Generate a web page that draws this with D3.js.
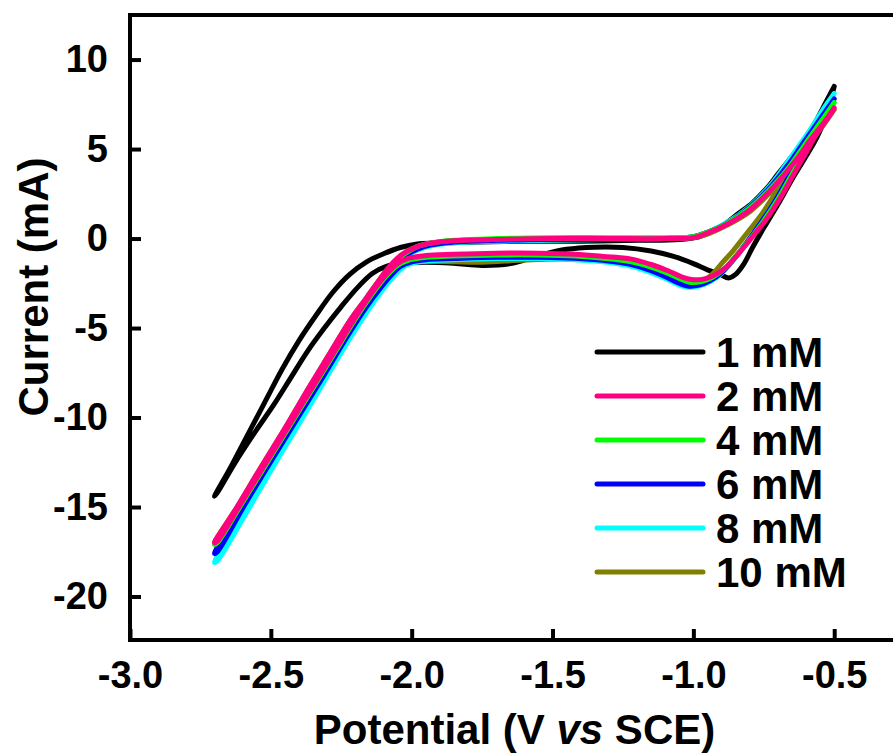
<!DOCTYPE html>
<html>
<head>
<meta charset="utf-8">
<script src="https://cdn.jsdelivr.net/npm/d3@7.9.0/dist/d3.min.js"></script>
<style>
  body { margin: 0; background: #fff; }
  svg { display: block; }
  text { font-family: "Liberation Sans", Arial, sans-serif; font-weight: bold; fill: #000; }
</style>
</head>
<body>
<svg id="chart"></svg>
<script>
// CV data: [potential (V vs SCE), current (mA)]
// each loop: upper branch from -0.5 V down to -2.7 V, then lower branch back
const c1 = [
  [-0.50, 8.5], [-0.53, 7.6], [-0.56, 6.7], [-0.59, 5.9], [-0.62, 5.2], [-0.66, 4.4], [-0.70, 3.6],
  [-0.74, 2.8], [-0.79, 2.0], [-0.84, 1.4], [-0.89, 0.8], [-0.94, 0.35], [-0.98, 0.1], [-1.05, -0.05],
  [-1.20, -0.1], [-1.40, -0.15], [-1.60, -0.15], [-1.80, -0.2], [-1.92, -0.25], [-1.98, -0.3],
  [-2.04, -0.5], [-2.10, -0.85], [-2.16, -1.3], [-2.22, -2.0], [-2.28, -3.0], [-2.34, -4.3],
  [-2.40, -5.7], [-2.46, -7.3], [-2.52, -9.1], [-2.58, -10.9], [-2.64, -12.7], [-2.70, -14.4],
  [-2.69, -14.2], [-2.63, -12.6], [-2.56, -10.9], [-2.49, -9.3], [-2.43, -7.8], [-2.37, -6.3],
  [-2.31, -5.0], [-2.25, -3.8], [-2.19, -2.7], [-2.14, -1.95], [-2.09, -1.55], [-2.03, -1.38],
  [-1.95, -1.32], [-1.85, -1.38], [-1.75, -1.5], [-1.65, -1.4], [-1.55, -0.95], [-1.45, -0.6],
  [-1.35, -0.48], [-1.25, -0.5], [-1.15, -0.7], [-1.07, -1.0], [-1.00, -1.4], [-0.95, -1.75],
  [-0.905, -2.0], [-0.875, -2.2], [-0.85, -2.0], [-0.82, -1.4], [-0.79, -0.5], [-0.75, 0.6],
  [-0.70, 1.9], [-0.65, 3.3], [-0.60, 4.6], [-0.56, 5.7], [-0.53, 6.8], [-0.50, 8.5]
];
const c2 = [
  [-0.50, 7.3], [-0.54, 6.4], [-0.58, 5.6], [-0.62, 4.7], [-0.66, 3.9], [-0.72, 2.8], [-0.80, 1.6],
  [-0.88, 0.8], [-0.95, 0.3], [-1.00, 0.05], [-1.10, 0.0], [-1.30, 0.0], [-1.50, 0.0], [-1.70, -0.05],
  [-1.85, -0.12], [-1.93, -0.25], [-1.98, -0.45], [-2.02, -0.75], [-2.05, -1.1], [-2.08, -1.6],
  [-2.11, -2.2], [-2.16, -3.3], [-2.22, -4.6], [-2.29, -6.4], [-2.36, -8.2], [-2.45, -10.6],
  [-2.54, -12.9], [-2.62, -15.0], [-2.70, -17.0],
  [-2.69, -16.9], [-2.61, -14.9], [-2.52, -12.6], [-2.43, -10.3], [-2.34, -8.0], [-2.27, -6.2],
  [-2.20, -4.4], [-2.14, -3.0], [-2.09, -2.0], [-2.05, -1.4], [-2.01, -1.1], [-1.95, -0.95],
  [-1.85, -0.88], [-1.70, -0.82], [-1.55, -0.82], [-1.42, -0.88], [-1.32, -1.0], [-1.22, -1.15],
  [-1.15, -1.45], [-1.09, -1.8], [-1.04, -2.15], [-1.00, -2.3], [-0.96, -2.25], [-0.92, -2.0],
  [-0.88, -1.55], [-0.84, -0.85], [-0.79, 0.1], [-0.74, 1.1], [-0.69, 2.3], [-0.64, 3.7],
  [-0.60, 4.8], [-0.56, 5.9], [-0.52, 6.8], [-0.50, 7.3]
];
const c4 = [
  [-0.50, 7.6], [-0.54, 6.7], [-0.58, 5.8], [-0.62, 4.9], [-0.66, 4.0], [-0.72, 2.9], [-0.80, 1.7],
  [-0.88, 0.85], [-0.95, 0.35], [-1.00, 0.1], [-1.10, 0.05], [-1.30, 0.05], [-1.50, 0.05], [-1.70, 0.0],
  [-1.85, -0.1], [-1.93, -0.25], [-1.98, -0.45], [-2.02, -0.8], [-2.05, -1.15], [-2.08, -1.65],
  [-2.11, -2.25], [-2.16, -3.35], [-2.22, -4.7], [-2.29, -6.5], [-2.36, -8.3], [-2.45, -10.7],
  [-2.54, -13.0], [-2.62, -15.1], [-2.70, -17.1],
  [-2.69, -17.0], [-2.61, -15.0], [-2.52, -12.7], [-2.43, -10.4], [-2.34, -8.1], [-2.27, -6.3],
  [-2.20, -4.5], [-2.14, -3.1], [-2.09, -2.1], [-2.05, -1.5], [-2.01, -1.2], [-1.95, -1.05],
  [-1.85, -0.98], [-1.70, -0.92], [-1.55, -0.92], [-1.42, -0.98], [-1.32, -1.1], [-1.22, -1.3],
  [-1.15, -1.6], [-1.09, -1.95], [-1.04, -2.3], [-1.01, -2.45], [-0.97, -2.4], [-0.93, -2.15],
  [-0.89, -1.7], [-0.85, -1.0], [-0.80, -0.05], [-0.75, 1.0], [-0.70, 2.2], [-0.65, 3.6],
  [-0.61, 4.7], [-0.57, 5.8], [-0.53, 6.8], [-0.50, 7.6]
];
const c6 = [
  [-0.50, 7.8], [-0.54, 6.9], [-0.58, 6.0], [-0.62, 5.1], [-0.66, 4.2], [-0.72, 3.0], [-0.80, 1.75],
  [-0.88, 0.85], [-0.95, 0.35], [-1.00, 0.1], [-1.10, 0.0], [-1.30, -0.05], [-1.50, -0.05], [-1.70, -0.1],
  [-1.85, -0.2], [-1.93, -0.35], [-1.98, -0.6], [-2.02, -0.95], [-2.05, -1.4], [-2.08, -2.0],
  [-2.12, -2.8], [-2.17, -3.9], [-2.24, -5.6], [-2.32, -7.7], [-2.41, -10.0], [-2.50, -12.3],
  [-2.60, -14.9], [-2.70, -17.6],
  [-2.69, -17.5], [-2.59, -14.8], [-2.49, -12.2], [-2.40, -9.9], [-2.31, -7.6], [-2.23, -5.5],
  [-2.16, -3.8], [-2.11, -2.75], [-2.07, -2.0], [-2.04, -1.55], [-2.00, -1.3], [-1.95, -1.18],
  [-1.85, -1.12], [-1.70, -1.05], [-1.55, -1.05], [-1.42, -1.1], [-1.32, -1.22], [-1.22, -1.45],
  [-1.15, -1.8], [-1.09, -2.2], [-1.05, -2.5], [-1.02, -2.65], [-0.98, -2.6], [-0.94, -2.35],
  [-0.90, -1.9], [-0.86, -1.2], [-0.81, -0.2], [-0.76, 0.9], [-0.71, 2.1], [-0.66, 3.5],
  [-0.62, 4.6], [-0.58, 5.7], [-0.54, 6.8], [-0.50, 7.8]
];
const c8 = [
  [-0.50, 8.1], [-0.54, 7.2], [-0.58, 6.2], [-0.62, 5.3], [-0.66, 4.4], [-0.72, 3.1], [-0.80, 1.8],
  [-0.88, 0.9], [-0.95, 0.35], [-1.00, 0.1], [-1.10, 0.0], [-1.30, -0.05], [-1.50, -0.1], [-1.70, -0.15],
  [-1.85, -0.25], [-1.93, -0.4], [-1.98, -0.65], [-2.02, -1.0], [-2.05, -1.5], [-2.08, -2.1],
  [-2.11, -2.8], [-2.16, -3.9], [-2.23, -5.7], [-2.31, -7.8], [-2.40, -10.2], [-2.50, -12.8],
  [-2.60, -15.5], [-2.70, -18.1],
  [-2.69, -18.0], [-2.59, -15.4], [-2.49, -12.7], [-2.39, -10.1], [-2.30, -7.7], [-2.22, -5.6],
  [-2.15, -3.9], [-2.10, -2.8], [-2.06, -2.05], [-2.03, -1.6], [-1.99, -1.35], [-1.95, -1.25],
  [-1.85, -1.18], [-1.70, -1.12], [-1.55, -1.12], [-1.42, -1.18], [-1.32, -1.3], [-1.22, -1.55],
  [-1.15, -1.9], [-1.09, -2.3], [-1.05, -2.6], [-1.02, -2.72], [-0.98, -2.65], [-0.94, -2.4],
  [-0.90, -1.95], [-0.86, -1.25], [-0.81, -0.25], [-0.76, 0.9], [-0.71, 2.1], [-0.66, 3.5],
  [-0.62, 4.7], [-0.58, 5.8], [-0.54, 7.0], [-0.50, 8.1]
];
const c10 = [
  [-0.50, 7.2], [-0.54, 6.3], [-0.58, 5.5], [-0.62, 4.6], [-0.66, 3.8], [-0.72, 2.7], [-0.80, 1.5],
  [-0.88, 0.75], [-0.95, 0.25], [-1.00, 0.05], [-1.10, 0.0], [-1.30, 0.0], [-1.50, 0.0], [-1.70, -0.05],
  [-1.85, -0.12], [-1.93, -0.25], [-1.98, -0.45], [-2.02, -0.75], [-2.05, -1.1], [-2.08, -1.6],
  [-2.11, -2.2], [-2.16, -3.3], [-2.22, -4.6], [-2.29, -6.4], [-2.36, -8.2], [-2.45, -10.6],
  [-2.54, -12.9], [-2.62, -15.0], [-2.70, -17.0],
  [-2.69, -16.9], [-2.61, -14.9], [-2.52, -12.6], [-2.43, -10.3], [-2.34, -8.0], [-2.27, -6.2],
  [-2.20, -4.4], [-2.14, -3.0], [-2.09, -2.1], [-2.05, -1.6], [-2.01, -1.35], [-1.95, -1.28],
  [-1.85, -1.3], [-1.75, -1.32], [-1.60, -1.2], [-1.45, -1.15], [-1.32, -1.25], [-1.22, -1.45],
  [-1.15, -1.75], [-1.09, -2.05], [-1.04, -2.3], [-1.00, -2.4], [-0.96, -2.3], [-0.93, -1.95],
  [-0.90, -1.4], [-0.86, -0.7], [-0.81, 0.3], [-0.76, 1.3], [-0.71, 2.5], [-0.66, 3.8],
  [-0.62, 4.8], [-0.58, 5.8], [-0.54, 6.6], [-0.50, 7.2]
];

const labels = ['1 mM', '2 mM', '4 mM', '6 mM', '8 mM', '10 mM'];
const colors = ['#000000', '#ff0080', '#00ff00', '#0000ff', '#00ffff', '#808000'];
const curves = [c1, c2, c4, c6, c8, c10];
const drawOrder = [0, 5, 4, 3, 2, 1]; // pink ends up on top

const xTicks = [-3.0, -2.5, -2.0, -1.5, -1.0, -0.5];
const yTicks = [10, 5, 0, -5, -10, -15, -20];

const width = 893;
const height = 755;
const margin = { top: 15, left: 130, bottom: 640, right: 899 };

const svg = d3.select('#chart')
  .attr('width', width)
  .attr('height', height);

const x = d3.scaleLinear().domain([-3.0, -0.27]).range([margin.left, margin.right]);
const y = d3.scaleLinear().domain([-22.43, 12.49]).range([margin.bottom, margin.top]);

// curves
const line = d3.line()
  .x(d => x(d[0]))
  .y(d => y(d[1]))
  .curve(d3.curveCatmullRom.alpha(0.5));

svg.append('g')
  .selectAll('path')
  .data(drawOrder)
  .join('path')
  .attr('d', i => line(curves[i]))
  .attr('fill', 'none')
  .attr('stroke', i => colors[i])
  .attr('stroke-width', 5)
  .attr('stroke-linejoin', 'round')
  .attr('stroke-linecap', 'round');

// axes, ticks pointing inward
const xAxis = svg.append('g')
  .attr('transform', `translate(0,${margin.bottom})`)
  .call(d3.axisBottom(x).tickValues(xTicks).tickFormat(d => d.toFixed(1))
    .tickSizeInner(-11).tickSizeOuter(0).tickPadding(21));

const yAxis = svg.append('g')
  .attr('transform', `translate(${margin.left},0)`)
  .call(d3.axisLeft(y).tickValues(yTicks).tickFormat(d => String(d))
    .tickSizeInner(-11).tickSizeOuter(0).tickPadding(22));

[xAxis, yAxis].forEach(a => {
  a.select('.domain').remove();
  a.selectAll('.tick line').attr('stroke', '#000').attr('stroke-width', 4);
  a.selectAll('.tick text')
    .attr('font-size', 38)
    .attr('font-family', '"Liberation Sans", Arial, sans-serif')
    .attr('font-weight', 'bold')
    .attr('fill', '#000');
});

// frame (right side runs off the picture)
const frame = svg.append('g')
  .attr('stroke', '#000')
  .attr('stroke-width', 4)
  .attr('stroke-linecap', 'square');
frame.append('line').attr('x1', margin.left).attr('x2', margin.left).attr('y1', margin.top).attr('y2', margin.bottom);
frame.append('line').attr('x1', margin.left).attr('x2', margin.right).attr('y1', margin.top).attr('y2', margin.top);
frame.append('line').attr('x1', margin.left).attr('x2', margin.right).attr('y1', margin.bottom).attr('y2', margin.bottom);
frame.append('line').attr('x1', margin.right).attr('x2', margin.right).attr('y1', margin.top).attr('y2', margin.bottom);

// axis titles
const xTitle = svg.append('text')
  .attr('x', (margin.left + margin.right) / 2)
  .attr('y', 744)
  .attr('text-anchor', 'middle')
  .attr('font-size', 42);
xTitle.append('tspan').text('Potential (V ');
xTitle.append('tspan').attr('font-style', 'italic').text('vs');
xTitle.append('tspan').text(' SCE)');

svg.append('text')
  .attr('transform', 'translate(48,287) rotate(-90)')
  .attr('text-anchor', 'middle')
  .attr('font-size', 42)
  .text('Current (mA)');

// legend
const legend = svg.append('g')
  .selectAll('g')
  .data(labels)
  .join('g')
  .attr('transform', (d, i) => `translate(0,${352 + i * 44})`);

legend.append('line')
  .attr('x1', 597).attr('x2', 703)
  .attr('stroke', (d, i) => colors[i])
  .attr('stroke-width', 5)
  .attr('stroke-linecap', 'round');

legend.append('text')
  .attr('x', 716)
  .attr('y', 15)
  .attr('font-size', 42)
  .text(d => d);
</script>
</body>
</html>
